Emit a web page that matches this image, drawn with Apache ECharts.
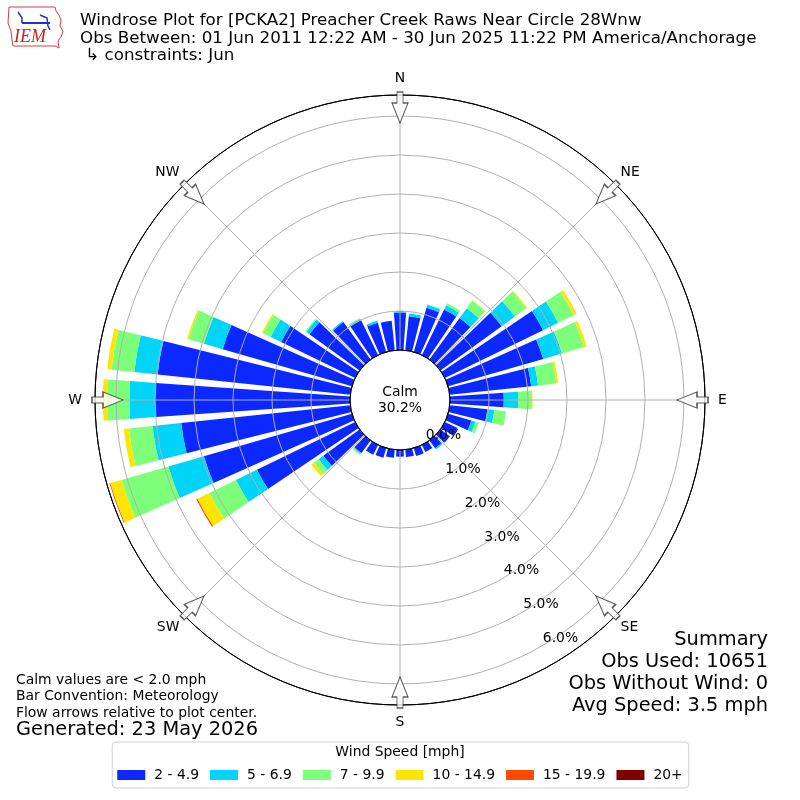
<!DOCTYPE html>
<html>
<head>
<meta charset="utf-8">
<script src="https://cdn.jsdelivr.net/npm/echarts@6/dist/echarts.min.js"></script>
<style>html,body{margin:0;padding:0;background:#fff}#chart{width:800px;height:800px}</style>
</head>
<body>
<div id="chart"></div>
<script>
// direction bins (degrees, meteorological, bin centers)
const directions = ['0','10','20','30','40','50','60','70','80','90','100','110','120','130','140','150','160','170','180','190','200','210','220','230','240','250','260','270','280','290','300','310','320','330','340','350'];
const speedBins = ['2 - 4.9', '5 - 6.9', '7 - 9.9', '10 - 14.9', '15 - 19.9', '20+'];
// frequency (%) per speed class per direction
const spd2to5   = [0.96,0.88,1.18,1.30,1.32,1.94,2.80,2.54,2.10,1.38,0.97,0.62,0.36,0.30,0.25,0.20,0.21,0.19,0.17,0.21,0.26,0.28,0.40,1.15,2.80,3.95,4.36,5.00,4.97,3.45,2.11,1.59,1.19,1.00,0.78,0.76];
const spd5to7   = [0.02,0.07,0.08,0.12,0.31,0.42,0.43,0.50,0.18,0.37,0.18,0.11,0,0,0.04,0,0,0,0,0,0,0,0.03,0.15,0.60,0.95,0.74,0.66,0.60,0.50,0.30,0.10,0.03,0.03,0.05,0];
const spd7to10  = [0,0,0.01,0.06,0.24,0.36,0.45,0.59,0.47,0.33,0.30,0.09,0,0,0,0,0,0,0,0,0,0,0.03,0.15,0.76,1.25,0.61,0.56,0.59,0.41,0.22,0.03,0,0.03,0,0];
const spd10to15 = [0,0,0,0,0.01,0.03,0.08,0.07,0.05,0.04,0,0,0,0,0,0,0,0,0,0,0,0,0.01,0.08,0.34,0.30,0.13,0.12,0.11,0.04,0.03,0,0,0,0,0];
const spd15to20 = [0,0,0,0,0,0,0,0,0,0,0,0,0,0,0,0,0,0,0,0,0,0,0,0,0.03,0.02,0,0,0,0,0,0,0,0,0,0];
const spd20plus = [0,0,0,0,0,0,0,0,0,0,0,0,0,0,0,0,0,0,0,0,0,0,0,0,0,0,0,0,0,0,0,0,0,0,0,0];
const ringTicks = [0,1,2,3,4,5,6];
const radialMax = 6.54;
const compassLabels = ['N','NE','E','SE','S','SW','W','NW'];
const compassAngles = [0,45,90,135,180,225,270,315];
const arrowRadius = 6.22;
const calmPct = '30.2%';

const colors = ['#0a28ff','#00d4f8','#7dff7a','#ffe500','#ff4800','#7f0000'];
const FONT = '"DejaVu Sans", sans-serif';
const SMALL = 13.9, MID = 16.7, BIG = 19.4;
const allSeriesData = [spd2to5, spd5to7, spd7to10, spd10to15, spd15to20, spd20plus];

const series = speedBins.map((name, i) => ({
  name: name,
  type: 'bar',
  coordinateSystem: 'polar',
  polarIndex: 0,
  stack: 'wind',
  data: allSeriesData[i],
  barCategoryGap: '20%',
  itemStyle: { color: colors[i] },
  z: 2
}));

series.push({
  name: 'arrows',
  type: 'scatter',
  coordinateSystem: 'polar',
  polarIndex: 1,
  symbol: 'path://M8,0 L16,20 L11,20 L11,31 L5,31 L5,20 L0,20 Z',
  symbolSize: [16, 31],
  data: compassAngles.map(a => ({ value: [arrowRadius, a], symbolRotate: 180 - a })),
  itemStyle: { color: '#ffffff', borderColor: '#333', borderWidth: 1.2 },
  silent: true,
  z: 20
});

const labelMap = {};
compassAngles.forEach((a, i) => { labelMap[a] = compassLabels[i]; });

const option = {
  animation: false,
  backgroundColor: '#fff',
  color: colors,
  polar: [
    { center: [400, 400], radius: [50, 305] },
    { center: [400, 400], radius: [50, 305] },
    { center: [400, 400], radius: [50, 305] }
  ],
  angleAxis: [
    { polarIndex: 0, type: 'category', data: directions, startAngle: 95, clockwise: true,
      axisLine: {show: false}, axisTick: {show: false}, axisLabel: {show: false}, splitLine: {show: false} },
    { polarIndex: 1, type: 'value', min: 0, max: 360, interval: 45, startAngle: 90, clockwise: true, z: 5,
      axisLine: {show: true, lineStyle: {color: '#000', width: 1}},
      axisTick: {show: false},
      axisLabel: {show: true, margin: 7, color: '#000', fontSize: SMALL, fontFamily: FONT,
        formatter: v => {
          if (v >= 360) return '';
          const t = labelMap[v] || '';
          return (v % 90 === 0) ? '{c|' + t + '}' : t;
        },
        rich: { c: { fontSize: SMALL, fontFamily: FONT, color: '#000', padding: [3, 6, 3, 6] } } },
      splitLine: {show: true, lineStyle: {color: '#b0b0b0', width: 1}} },
    { polarIndex: 2, type: 'value', min: 0, max: 360, startAngle: -60, show: false }
  ],
  radiusAxis: [
    { polarIndex: 0, type: 'value', min: 0, max: radialMax,
      axisLine: {show: false}, axisTick: {show: false}, axisLabel: {show: false}, splitLine: {show: false} },
    { polarIndex: 1, type: 'value', min: 0, max: radialMax, interval: 1, z: 5,
      axisLine: {show: false}, axisTick: {show: false}, axisLabel: {show: false},
      splitLine: {show: true, lineStyle: {color: ['#000','#b0b0b0','#b0b0b0','#b0b0b0','#b0b0b0','#b0b0b0','#b0b0b0','#000'], width: 1}} },
    { polarIndex: 2, type: 'value', min: 0, max: radialMax, interval: 1, z: 6,
      axisLine: {show: false}, axisTick: {show: false}, splitLine: {show: false},
      axisLabel: {show: true, margin: 1, color: '#000', fontSize: SMALL, fontFamily: FONT, verticalAlign: 'bottom',
        formatter: v => (ringTicks.indexOf(v) >= 0 ? v.toFixed(1) + '%' : '')} }
  ],
  legend: {
    data: speedBins,
    left: 'center',
    top: 742,
    orient: 'horizontal',
    icon: 'rect',
    itemWidth: 28,
    itemHeight: 10,
    itemGap: 11,
    padding: [26, 6, 6, 5],
    backgroundColor: '#fff',
    borderColor: '#d0d0d0',
    borderWidth: 1,
    borderRadius: 4,
    textStyle: {color: '#000', fontSize: SMALL, fontFamily: FONT, padding: [0, 0, 0, 4]},
    selectedMode: false
  },
  graphic: [
    { type: 'polygon', z: 49,
      shape: {points: [[9,7],[55,7],[56,11],[59,15],[61,20],[60,26],[63,31],[61,37],[58,41],[59,48],[55,46],[13,46],[12,40],[11,31],[8,23],[9,7]]},
      style: {fill: 'none', stroke: '#d04040', lineWidth: 1} },
    { type: 'polyline', z: 49, shape: {points: [[22,23],[50,23]]}, style: {stroke: '#2233cc', lineWidth: 2} },
    { type: 'polyline', z: 49, shape: {points: [[18,12],[22,18],[22,23]]}, style: {stroke: '#2233cc', lineWidth: 1.5} },
    { type: 'polyline', z: 49, shape: {points: [[40,15],[47,18],[48,26],[50,30]]}, style: {stroke: '#2233cc', lineWidth: 1.5} },
    { type: 'text', left: 14, top: 28, z: 50,
      style: {text: 'IEM', fill: '#cc2222', font: 'italic 18px "Liberation Serif", serif'} },
    { type: 'text', left: 80, top: 12, z: 50,
      style: {text: 'Windrose Plot for [PCKA2] Preacher Creek Raws Near Circle 28Wnw\nObs Between: 01 Jun 2011 12:22 AM - 30 Jun 2025 11:22 PM America/Anchorage\n \u21b3 constraints: Jun',
        fill: '#000', font: MID + 'px ' + FONT, lineHeight: 17.5} },
    { type: 'text', left: 'center', top: 384, z: 50,
      style: {text: 'Calm\n' + calmPct, fill: '#000', font: SMALL + 'px ' + FONT, lineHeight: 16, textAlign: 'center'} },
    { type: 'text', left: 16, top: 672, z: 50,
      style: {text: 'Calm values are < 2.0 mph\nBar Convention: Meteorology\nFlow arrows relative to plot center.',
        fill: '#000', font: SMALL + 'px ' + FONT, lineHeight: 16.5} },
    { type: 'text', left: 16, top: 720, z: 50,
      style: {text: 'Generated: 23 May 2026', fill: '#000', font: BIG + 'px ' + FONT} },
    { type: 'text', right: 32, top: 629, z: 50,
      style: {text: 'Summary\nObs Used: 10651\nObs Without Wind: 0\nAvg Speed: 3.5 mph',
        fill: '#000', font: BIG + 'px ' + FONT, lineHeight: 22, textAlign: 'right'} },
    { type: 'text', left: 'center', top: 745, z: 50,
      style: {text: 'Wind Speed [mph]', fill: '#000', font: SMALL + 'px ' + FONT} }
  ],
  series: series
};

const chart = echarts.init(document.getElementById('chart'), null, {renderer: 'canvas'});
chart.setOption(option);
</script>
</body>
</html>
